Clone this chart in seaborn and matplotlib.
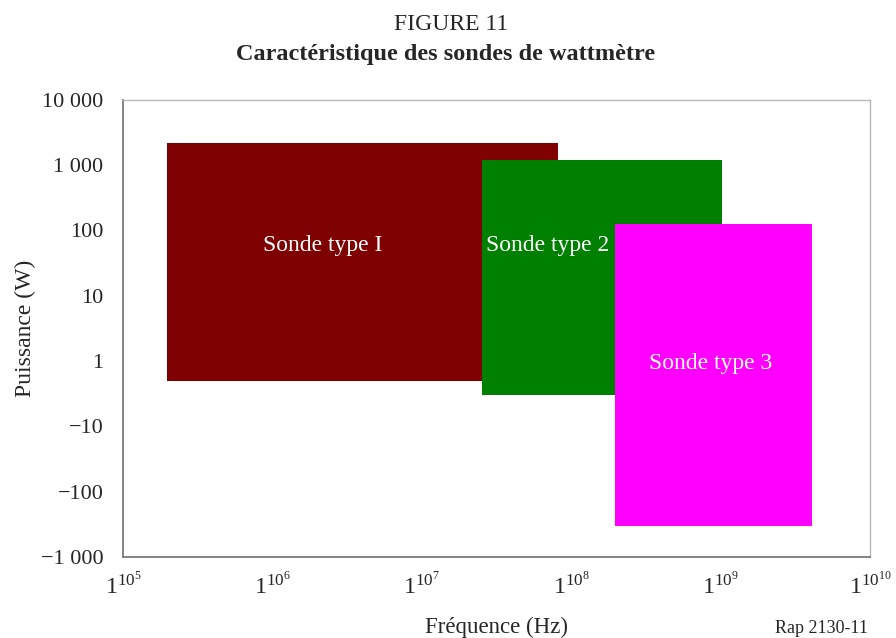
import matplotlib
matplotlib.use("Agg")
import seaborn as sns
from matplotlib import pyplot as plt

# données
sondes = ['Sonde type I', 'Sonde type 2', 'Sonde type 3']
couleurs = ['#7f0000', '#008000', '#ff00ff']
freq_min = [10 ** 5.294, 10 ** 7.40, 10 ** 8.29]
freq_max = [10 ** 7.91, 10 ** 9.01, 10 ** 9.61]
# position sur l'axe des puissances (0 = -1 000 ... 7 = 10 000)
puis_min = [2.70, 2.48, 0.47]
puis_max = [6.33, 6.08, 5.10]
label_x = [10 ** 6.34, 10 ** 7.84, 10 ** 8.93]
label_y = [4.76, 4.76, 2.96]

y_labels = ['\u22121 000', '\u2212100', '\u221210', '1', '10', '100', '1 000', '10 000']
x_exp = [5, 6, 7, 8, 9, 10]

sns.set_theme(style='white')
plt.rcParams['font.family'] = ['Liberation Serif', 'DejaVu Serif']
plt.rcParams['mathtext.fontset'] = 'custom'
plt.rcParams['mathtext.rm'] = 'Liberation Serif'

fig = plt.figure(figsize=(8.96, 6.38), dpi=100)
ax = fig.add_axes([0.1373, 0.127, 0.8337, 0.717])

for i in range(len(sondes)):
    ax.fill_between([freq_min[i], freq_max[i]], puis_min[i], puis_max[i],
                    color=couleurs[i], linewidth=0, zorder=2 + i)
    ax.text(label_x[i], label_y[i], sondes[i], color='white', fontsize=17,
            ha='center', va='center', zorder=10)

ax.set_xscale('log')
ax.set_xlim(1e5, 1e10)
ax.set_ylim(0, 7)
ax.set_xticks([10.0 ** e for e in x_exp])
ax.set_xticklabels([r'$\mathregular{1^{10^{%d}}}$' % e for e in x_exp], fontsize=17.5)
ax.xaxis.set_minor_locator(matplotlib.ticker.NullLocator())
ax.set_yticks(range(len(y_labels)))
ax.set_yticklabels(y_labels, fontsize=16)
ax.tick_params(axis='y', length=4, width=1, color='#404040', pad=10)
ax.tick_params(axis='x', length=3, width=1, color='#404040', pad=10, direction='inout')

for s in ['left', 'bottom']:
    ax.spines[s].set_color('#7a7a7a')
    ax.spines[s].set_linewidth(1.3)
for s in ['top', 'right']:
    ax.spines[s].set_color('#b8b8b8')
    ax.spines[s].set_linewidth(1.0)

ax.set_ylabel('Puissance (W)', fontsize=17, labelpad=3.5)
ax.set_xlabel('Fréquence (Hz)', fontsize=16.5, labelpad=13)

fig.text(0.503, 0.953, 'FIGURE 11', ha='center', va='baseline', fontsize=17)
fig.text(0.497, 0.906, 'Caractéristique des sondes de wattmètre', ha='center',
         va='baseline', fontsize=17.5, fontweight='bold')
fig.text(0.917, 0.008, 'Rap 2130-11', ha='center', va='baseline', fontsize=13)

fig.savefig('out.png', dpi=100)
